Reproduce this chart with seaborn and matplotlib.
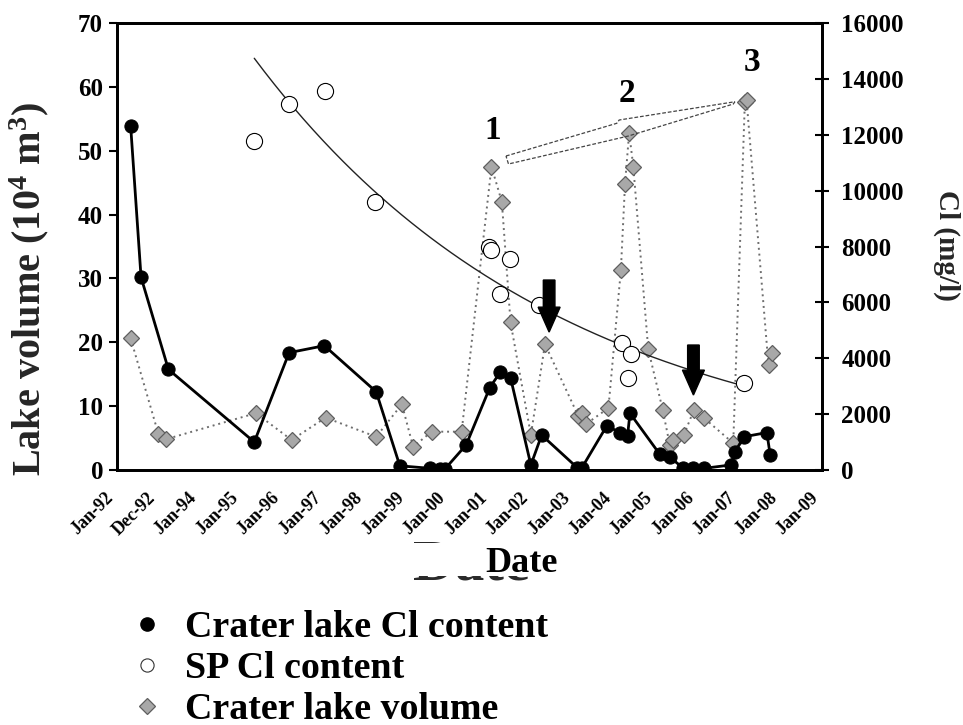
import numpy as np
import pandas as pd
import matplotlib
matplotlib.use('Agg')
import matplotlib.pyplot as plt
import seaborn as sns
from matplotlib.lines import Line2D
from matplotlib.patches import Polygon, FancyArrow
from matplotlib.transforms import Bbox, TransformedBbox, ScaledTranslation

# ---------------- data ----------------
tick_years = list(range(1992, 2010))
tick_labels = ['Jan-92', 'Dec-92', 'Jan-94', 'Jan-95', 'Jan-96', 'Jan-97', 'Jan-98',
               'Jan-99', 'Jan-00', 'Jan-01', 'Jan-02', 'Jan-03', 'Jan-04', 'Jan-05',
               'Jan-06', 'Jan-07', 'Jan-08', 'Jan-09']

crater_cl_year = [1992.33, 1992.58, 1993.24, 1995.31, 1996.15, 1997.00, 1998.25, 1998.82,
                  1999.55, 1999.79, 1999.91, 2000.42, 2000.99, 2001.24, 2001.49, 2001.98,
                  2002.24, 2003.10, 2003.21, 2003.81, 2004.13, 2004.31, 2004.37, 2005.09,
                  2005.33, 2005.66, 2005.90, 2006.16, 2006.80, 2006.90, 2007.12, 2007.67,
                  2007.75]
crater_cl_mgl = [12300, 6900, 3600, 1000, 4200, 4450, 2800, 150,
                 60, 40, 40, 900, 2950, 3500, 3300, 180,
                 1250, 80, 80, 1580, 1340, 1220, 2030, 560,
                 460, 60, 60, 60, 180, 650, 1190, 1340,
                 540]

sp_year = [1995.31, 1996.15, 1997.02, 1998.22, 2000.98, 2001.03, 2001.24, 2001.48,
           2002.18, 2004.17, 2004.31, 2004.39, 2007.12]
sp_mgl = [11790, 13100, 13560, 9600, 7990, 7870, 6290, 7540,
          5900, 4530, 3280, 4150, 3100]

vol_year = [1992.33, 1993.00, 1993.17, 1995.35, 1996.21, 1997.03, 1998.25, 1998.87,
            1999.14, 1999.59, 2000.31, 2001.03, 2001.28, 2001.49, 2001.98, 2002.32,
            2003.12, 2003.21, 2003.31, 2003.85, 2004.15, 2004.25, 2004.35, 2004.45,
            2004.81, 2005.16, 2005.33, 2005.41, 2005.67, 2005.91, 2006.16, 2006.86,
            2007.14, 2007.18, 2007.71, 2007.79]
vol_1e4m3 = [20.6, 5.6, 4.8, 8.9, 4.7, 8.2, 5.2, 10.3,
             3.65, 6.0, 6.0, 47.5, 42.0, 23.1, 5.5, 19.7,
             8.5, 8.9, 7.2, 9.7, 31.3, 44.8, 52.8, 47.5,
             18.9, 9.4, 3.9, 4.7, 5.5, 9.4, 8.1, 4.2,
             57.7, 58.0, 16.4, 18.4]

legend_labels = ['Crater lake Cl content', 'SP Cl content', 'Crater lake volume']

# ---------------- style ----------------
sns.set_style('white')
plt.rcParams['font.family'] = ['Liberation Serif', 'DejaVu Serif']
plt.rcParams['font.weight'] = 'bold'
plt.rcParams['axes.labelweight'] = 'bold'
plt.rcParams['mathtext.fontset'] = 'custom'
plt.rcParams['mathtext.rm'] = 'Liberation Serif:bold'
plt.rcParams['mathtext.it'] = 'Liberation Serif:bold'
plt.rcParams['mathtext.bf'] = 'Liberation Serif:bold'
plt.rcParams['mathtext.default'] = 'rm'
plt.rcParams['text.color'] = 'black'
plt.rcParams['xtick.color'] = 'black'
plt.rcParams['ytick.color'] = 'black'

fig = plt.figure(figsize=(9.63, 7.25), dpi=100)
ax = fig.add_axes([117/963, 1-470/725, 705/963, 447/725])
ax2 = ax.twinx()

vol_df = pd.DataFrame({'year': vol_year, 'vol': vol_1e4m3})
cl_df = pd.DataFrame({'year': crater_cl_year, 'cl': crater_cl_mgl})
sp_df = pd.DataFrame({'year': sp_year, 'cl': sp_mgl})

DIAMOND = dict(marker='D', markersize=8.6, markerfacecolor='#a8a8a8',
               markeredgecolor='#5e5e5e', markeredgewidth=0.9)

# crater lake volume (left axis)
sns.lineplot(data=vol_df, x='year', y='vol', ax=ax, estimator=None, sort=False,
             color='#6e6e6e', linestyle=(0, (1, 2)), linewidth=1.4, **DIAMOND)

# exponential trend of SP Cl content
coef = np.polyfit(np.array(sp_year) - 1995.0, np.log(sp_mgl), 1)
xfit = np.linspace(min(sp_year), max(sp_year), 200)
fit_df = pd.DataFrame({'year': xfit, 'cl': np.exp(np.polyval(coef, xfit - 1995.0))})
sns.lineplot(data=fit_df, x='year', y='cl', ax=ax2, estimator=None, sort=False,
             color='#222222', linewidth=1.0)

# SP Cl content (open circles)
sns.scatterplot(data=sp_df, x='year', y='cl', ax=ax2, marker='o', s=135,
                facecolor='white', edgecolor='black', linewidth=0.8, zorder=4)

# crater lake Cl content (black line + dots)
sns.lineplot(data=cl_df, x='year', y='cl', ax=ax2, estimator=None, sort=False,
             color='black', linewidth=2.0, marker='o', markersize=9.5,
             markeredgecolor='black', zorder=5)

# ---------------- axes ----------------
ax.set_xlim(1992, 2009)
ax.set_ylim(0, 70)
ax2.set_ylim(0, 16000)
ax.set_xticks(tick_years)
ax.set_xticklabels(tick_labels, rotation=45, ha='right', fontsize=13, fontweight='bold')
shift = ScaledTranslation(-0.05, -0.03, fig.dpi_scale_trans)
for lab in ax.get_xticklabels():
    lab.set_transform(lab.get_transform() + shift)
ax.set_yticks(range(0, 71, 10))
ax2.set_yticks(range(0, 16001, 2000))
ax.tick_params(axis='x', direction='out', length=5, width=1.5, pad=9)
ax.tick_params(axis='y', direction='out', length=6, width=1.5, pad=4, labelsize=18)
ax2.tick_params(axis='y', direction='inout', length=10, width=1.5, pad=9, labelsize=18)
for a in (ax, ax2):
    for s in a.spines.values():
        s.set_linewidth(2.0)
        s.set_color('black')
ax.set_xlabel('')

ax.set_ylabel('Lake volume (10$^4$ m$^3$)', fontsize=29)
ax.yaxis.set_label_coords((29-117)/705, 0.405)
ax.yaxis.label.set_verticalalignment('center')
ax.yaxis.label.set_horizontalalignment('center')

ax2.set_ylabel('Cl (mg/l)', fontsize=21, rotation=270)
ax2.yaxis.set_label_coords((947-117)/705, 0.503)
ax2.yaxis.label.set_verticalalignment('center')
ax2.yaxis.label.set_horizontalalignment('center')

# ---------------- annotations (in lake-volume units) ----------------
tr = ax.transData
for txt, xx, yy in [('1', 2001.05, 53.2), ('2', 2004.30, 58.9), ('3', 2007.31, 63.8)]:
    ax2.text(xx, yy, txt, transform=tr, fontsize=24, ha='center', va='center', zorder=7)

band = [(2001.38, 49.17), (2004.05, 54.29), (2004.11, 54.81), (2006.90, 57.67),
        (2006.86, 57.31), (2004.33, 52.30), (2001.44, 47.92)]
ax2.add_patch(Polygon(band, closed=True, fill=False, edgecolor='#444444', linewidth=0.9,
                      linestyle=(0, (3, 1.5)), transform=tr, zorder=6))

for xx, ytop, ytip in [(2002.42, 29.75, 21.6), (2005.90, 19.57, 11.74)]:
    ax2.add_patch(FancyArrow(xx, ytop, 0, ytip - ytop, width=0.28, head_width=0.53,
                             head_length=3.9, length_includes_head=True,
                             color='black', transform=tr, zorder=8))

# ---------------- "Date" label with partly hidden ghost ----------------
W, H = 963, 725
for (y_top, y_bot) in [(537, 543), (576, 581)]:
    g = fig.text(413/W, 1-580/H, 'Date', fontsize=42, color='#2a2a2a', ha='left',
                 va='baseline', zorder=1)
    g.set_clip_box(TransformedBbox(Bbox.from_extents(400/W, 1-y_bot/H, 560/W, 1-y_top/H),
                                   fig.transFigure))
    g.set_clip_on(True)
fig.text(521/W, 1-572/H, 'Date', fontsize=26, ha='center', va='baseline', zorder=3)

# ---------------- legend ----------------
handles = [
    Line2D([], [], linestyle='none', marker='o', markersize=9.5, markerfacecolor='black',
           markeredgecolor='black'),
    Line2D([], [], linestyle='none', marker='o', markersize=9.5, markerfacecolor='white',
           markeredgecolor='#333333', markeredgewidth=0.8),
    Line2D([], [], linestyle='none', **DIAMOND),
]
fig.legend(handles, legend_labels, loc='upper left', bbox_to_anchor=(128/W, 1-610/H),
           frameon=False, fontsize=27.3, handlelength=1.0, handletextpad=0.5,
           labelspacing=0.16, borderpad=0, borderaxespad=0)

fig.savefig('out.png', dpi=100)
